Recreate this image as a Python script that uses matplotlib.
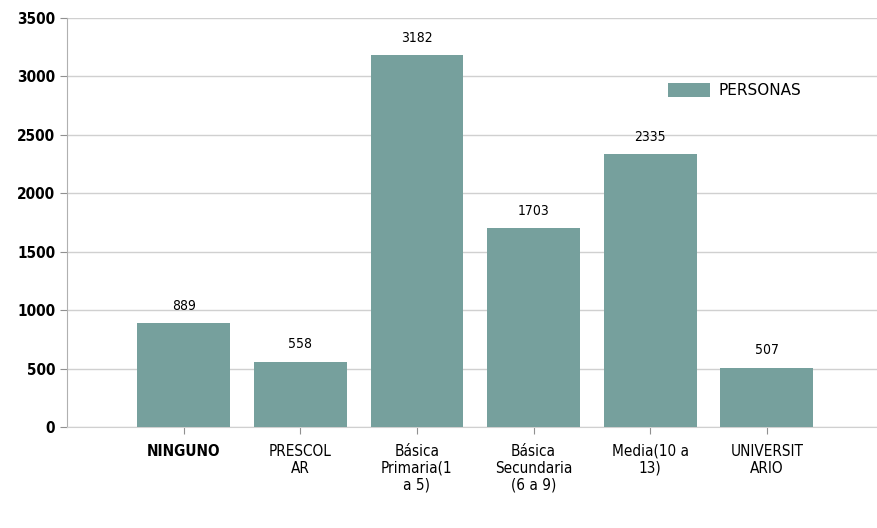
import matplotlib.pyplot as plt

categorias = ['NINGUNO', 'PRESCOL\nAR', 'Básica\nPrimaria(1\na 5)', 'Básica\nSecundaria\n(6 a 9)', 'Media(10 a\n13)', 'UNIVERSIT\nARIO']
personas = [889, 558, 3182, 1703, 2335, 507]
yticks = [0, 500, 1000, 1500, 2000, 2500, 3000, 3500]

color = '#76a09d'
fig = plt.figure(figsize=(8.78, 5.28), dpi=100)
ax = fig.add_axes([0.0763, 0.191, 0.922, 0.775])

x = list(range(len(categorias)))
ax.bar(x, personas, width=0.795, color=color, label='PERSONAS', zorder=3)
for xi, v in zip(x, personas):
    ax.text(xi, v + 90, str(v), ha='center', va='bottom', fontsize=10, fontstretch='condensed')

ax.set_xlim(-1.0, 5.94)
ax.set_ylim(0, 3500)
ax.set_yticks(yticks)
ax.set_yticklabels([str(t) for t in yticks], fontsize=11, fontweight='bold', fontstretch='condensed')
ax.set_xticks(x)
ax.set_xticklabels(categorias, fontsize=11, linespacing=1.15, fontstretch='condensed')
ax.get_xticklabels()[0].set_fontweight('bold')

ax.grid(axis='y', color='#d0d0d0', linewidth=1, zorder=0)
for s in ['top', 'right']:
    ax.spines[s].set_visible(False)
ax.spines['left'].set_color('#b0b0b0')
ax.spines['bottom'].set_color('#d0d0d0')
ax.tick_params(axis='both', color='#909090', length=5)
ax.tick_params(axis='x', pad=7)

ax.legend(loc='upper left', bbox_to_anchor=(0.726, 0.875), frameon=False,
          prop={'size': 11}, handlelength=2.7, handleheight=1.0, handletextpad=0.6)

fig.savefig('out.png', dpi=100)
